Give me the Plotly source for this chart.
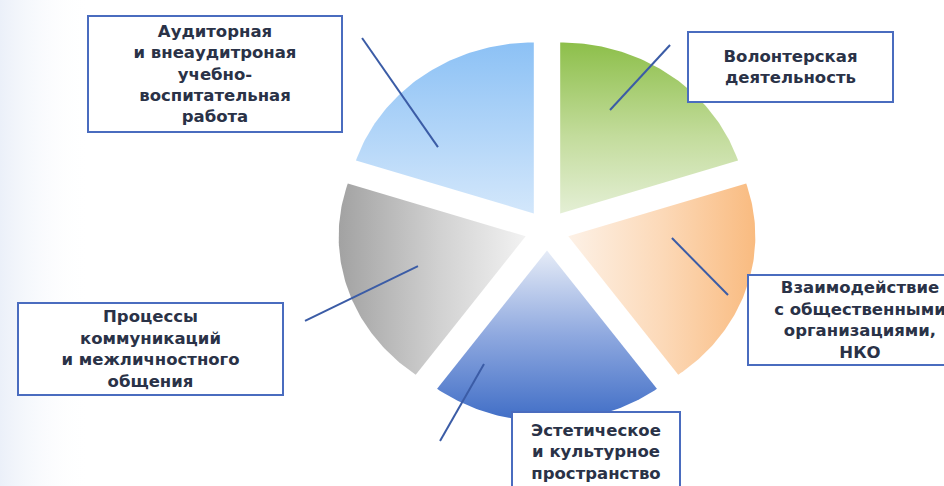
import numpy as np
import plotly.graph_objects as go

# Slices, clockwise from 12 o'clock
labels = [
    "Волонтерская<br>деятельность",
    "Взаимодействие<br>с общественными<br>организациями,<br>НКО",
    "Эстетическое<br>и культурное<br>пространство",
    "Процессы<br>коммуникаций<br>и межличностного<br>общения",
    "Аудиторная<br>и внеаудитроная<br>учебно-<br>воспитательная<br>работа",
]
values = [1, 1, 1, 1, 1]

# gradient fill of every slice: (direction, colorscale)
gradients = [
    ("vertical", [[0, "#e4efd5"], [0.45, "#c3dc9c"], [1, "#8dbf4a"]]),
    ("horizontal", [[0, "#fdf1e6"], [0.5, "#fcd9b8"], [1, "#f9bb80"]]),
    ("vertical", [[0, "#3f6dc6"], [0.5, "#8ea8df"], [1, "#e6ecf7"]]),
    ("horizontal", [[0, "#a2a2a2"], [0.55, "#d2d2d2"], [1, "#f2f2f2"]]),
    ("vertical", [[0, "#d3e7fb"], [1, "#8cc1f5"]]),
]

W, H = 944, 486
CX, CY = 547, 230          # pie centre, px
RX, RY = 187, 171          # px per unit radius (picture is slightly stretched)
PULL = 0.12
LINE = "#3b5ca6"
BORDER = "#4a6cbf"
TEXT = "#2a3247"

fig = go.Figure()

# faint bluish glow along the left edge of the slide
x_left, x_glow = -CX / RX, (90 - CX) / RX
y_bot, y_top = -(H - CY) / RY, CY / RY
fig.add_trace(go.Scatter(
    x=[x_left, x_glow, x_glow, x_left, x_left], y=[y_bot, y_bot, y_top, y_top, y_bot],
    mode="lines", fill="toself", hoverinfo="skip", showlegend=False,
    fillgradient=dict(type="horizontal",
                      colorscale=[[0, "rgba(235,240,249,1)"], [1, "rgba(255,255,255,0)"]]),
    line=dict(width=0, color="rgba(0,0,0,0)"),
))

frac = np.cumsum([0] + values) / np.sum(values)
for i, lab in enumerate(labels):
    a0, a1 = 2 * np.pi * frac[i], 2 * np.pi * frac[i + 1]
    mid = (a0 + a1) / 2
    ox, oy = PULL * np.sin(mid), PULL * np.cos(mid)
    t = np.linspace(a0, a1, 80)
    xs = np.concatenate([[ox], ox + np.sin(t), [ox]])
    ys = np.concatenate([[oy], oy + np.cos(t), [oy]])
    kind, scale = gradients[i]
    fig.add_trace(go.Scatter(
        x=xs, y=ys, mode="lines", fill="toself",
        fillgradient=dict(type=kind, colorscale=scale),
        line=dict(width=0, color="rgba(0,0,0,0)"),
        name=lab.replace("<br>", " "), hoverinfo="name", showlegend=False,
    ))

# leader lines (inner point on slice -> towards the label), axis units
leaders = [
    ((0.337, 0.702), (0.658, 1.082)),
    ((0.668, -0.047), (0.968, -0.380)),
    ((-0.337, -0.784), (-0.572, -1.234)),
    ((-0.690, -0.211), (-1.294, -0.532)),
    ((-0.583, 0.485), (-0.989, 1.123)),
]
for (x0, y0), (x1, y1) in leaders:
    fig.add_shape(type="line", xref="x", yref="y", x0=x0, y0=y0, x1=x1, y1=y1,
                  line=dict(color=LINE, width=2))

# label boxes: centre px and size px
boxes = [
    (790, 67, 205, 70),
    (860, 320, 224, 90),
    (596, 452, 168, 80),
    (150, 349, 265, 92),
    (215, 74, 254, 116),
]
for lab, (bx, by, bw, bh) in zip(labels, boxes):
    fig.add_annotation(
        text=lab, xref="paper", yref="paper", x=bx / W, y=1 - by / H,
        xanchor="center", yanchor="middle", showarrow=False,
        width=bw - 2, height=bh - 2, borderpad=0, align="center", valign="middle",
        bgcolor="white", bordercolor=BORDER, borderwidth=2,
        font=dict(family="DejaVu Sans", size=16.5, color=TEXT, weight="bold"),
    )

fig.update_layout(
    width=W, height=H,
    margin=dict(l=0, r=0, t=0, b=0),
    paper_bgcolor="white", plot_bgcolor="white",
    xaxis=dict(range=[-CX / RX, (W - CX) / RX], visible=False, fixedrange=True),
    yaxis=dict(range=[-(H - CY) / RY, CY / RY], visible=False, fixedrange=True),
    showlegend=False,
)

fig.write_html("out.html", config={"displayModeBar": False},
               post_script="document.body.style.margin='0';")
